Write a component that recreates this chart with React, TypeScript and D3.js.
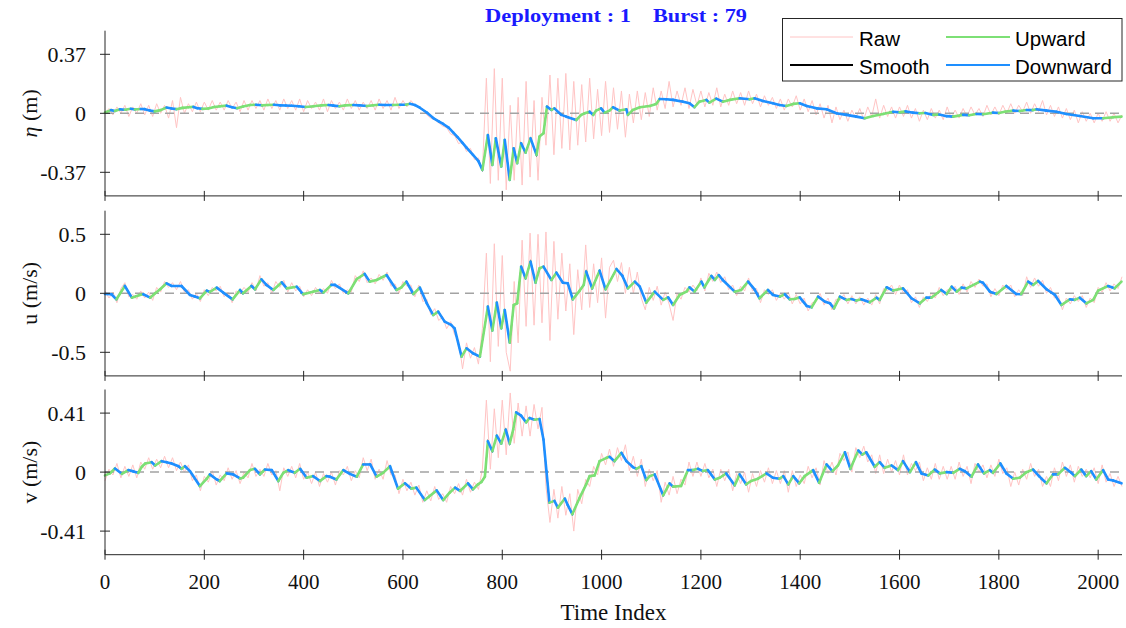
import React from 'react';
import * as d3 from 'd3';

// Raw series are sampled every RAW_STEP time indices, starting at 0.
const RAW_STEP = 8;
const TIME_MAX = 2048;

const etaRaw = [
  0.00, 0.03, -0.01, 0.04, 0.00, 0.05, -0.02, 0.04, 0.00, 0.06,
  -0.01, 0.05, -0.02, 0.06, 0.00, 0.05, -0.03, 0.08, -0.09, 0.10,
  0.00, 0.06, 0.01, 0.07, 0.01, 0.07, 0.02, 0.08, 0.02, 0.07,
  0.02, 0.08, 0.03, 0.07, 0.01, 0.08, 0.02, 0.08, 0.03, 0.08,
  0.02, 0.09, 0.03, 0.08, 0.02, 0.09, 0.03, 0.08, 0.02, 0.09,
  0.01, 0.08, 0.03, 0.07, 0.02, 0.09, 0.01, 0.08, 0.03, 0.07,
  0.02, 0.09, 0.03, 0.08, 0.02, 0.07, 0.03, 0.08, 0.02, 0.09,
  0.03, 0.08, 0.02, 0.10, 0.03, 0.08, 0.04, 0.08, 0.05, 0.04,
  0.02, -0.01, -0.03, -0.04, -0.06, -0.08, -0.09, -0.13, -0.14, -0.19,
  -0.18, -0.24, -0.22, -0.29, -0.28, -0.36, 0.22, -0.44, 0.28, -0.42,
  0.22, -0.48, 0.05, -0.42, 0.10, -0.45, 0.20, -0.40, 0.08, -0.42,
  0.10, -0.20, 0.24, -0.26, 0.22, -0.22, 0.25, -0.23, 0.20, -0.20,
  0.18, -0.18, 0.22, -0.16, 0.15, -0.14, 0.20, -0.12, 0.16, -0.10,
  0.14, -0.15, 0.12, -0.06, 0.14, -0.04, 0.13, -0.02, 0.16, 0.02,
  0.14, 0.03, 0.20, 0.04, 0.14, 0.05, 0.16, 0.03, 0.15, 0.05,
  0.14, 0.04, 0.13, 0.05, 0.16, 0.04, 0.12, 0.05, 0.14, 0.06,
  0.13, 0.05, 0.14, 0.06, 0.12, 0.04, 0.11, 0.05, 0.10, 0.03,
  0.09, 0.02, 0.09, 0.04, 0.11, 0.02, 0.09, 0.01, 0.08, -0.01,
  0.06, -0.03, 0.05, -0.06, 0.04, -0.04, 0.02, -0.05, 0.02, -0.03,
  0.03, -0.04, 0.04, -0.02, 0.09, -0.03, 0.05, -0.02, 0.04, -0.03,
  0.04, -0.02, 0.05, -0.03, 0.03, -0.05, 0.02, -0.04, 0.03, -0.03,
  0.02, -0.04, 0.04, -0.03, 0.02, -0.03, 0.03, -0.02, 0.04, -0.01,
  0.03, -0.02, 0.05, -0.01, 0.04, -0.01, 0.05, 0.00, 0.06, 0.00,
  0.05, 0.01, 0.07, 0.00, 0.06, 0.01, 0.08, -0.01, 0.05, -0.02,
  0.04, -0.03, 0.03, -0.04, 0.02, -0.06, 0.01, -0.05, 0.00, -0.06,
  0.00, -0.05, 0.01, -0.05, 0.00, -0.06, -0.01,
];

const uRaw = [
  0.02, -0.04, 0.01, -0.08, 0.04, 0.09, -0.03, -0.01, -0.05, 0.02,
  -0.04, 0.01, -0.06, 0.05, 0.01, 0.10, 0.05, 0.09, 0.03, 0.10,
  0.01, 0.03, -0.05, 0.00, -0.07, 0.03, -0.02, 0.05, 0.02, 0.06,
  -0.03, 0.01, -0.08, 0.02, 0.00, 0.05, 0.01, 0.09, 0.02, 0.15,
  0.06, 0.09, 0.00, 0.10, 0.05, 0.11, 0.01, 0.09, 0.02, 0.06,
  -0.03, 0.03, -0.02, 0.05, 0.00, 0.04, 0.00, 0.11, 0.04, 0.08,
  0.00, 0.03, 0.01, 0.15, 0.10, 0.19, 0.09, 0.13, 0.08, 0.16,
  0.11, 0.18, 0.06, 0.08, 0.00, 0.10, 0.06, 0.07, -0.03, 0.07,
  -0.07, -0.05, -0.18, -0.13, -0.23, -0.20, -0.30, -0.24, -0.35, -0.40,
  -0.64, -0.42, -0.55, -0.46, -0.60, -0.30, 0.34, -0.58, 0.42, -0.45,
  0.32, -0.50, -0.66, 0.10, -0.42, 0.45, -0.28, 0.51, -0.27, 0.50,
  -0.25, 0.52, -0.40, 0.44, -0.22, 0.34, -0.15, 0.25, -0.35, 0.20,
  -0.14, 0.41, -0.12, 0.25, -0.08, 0.30, -0.21, 0.22, 0.28, 0.10,
  0.26, 0.00, 0.22, 0.00, 0.18, -0.04, -0.14, 0.05, -0.06, 0.06,
  -0.10, 0.01, -0.09, -0.23, 0.00, -0.05, 0.05, 0.01, 0.07, 0.02,
  0.13, 0.02, 0.17, 0.10, 0.18, 0.09, 0.14, 0.03, 0.07, -0.02,
  0.06, 0.02, 0.13, 0.02, 0.04, -0.08, 0.03, -0.01, 0.03, -0.06,
  0.00, -0.05, 0.01, -0.09, -0.01, -0.09, -0.04, -0.15, -0.08, -0.07,
  0.00, -0.10, -0.04, -0.14, -0.05, -0.06, -0.01, -0.09, -0.02, -0.09,
  -0.03, -0.10, -0.04, -0.10, -0.01, -0.09, 0.04, 0.02, 0.07, -0.01,
  0.07, 0.00, 0.03, -0.08, -0.03, -0.12, -0.03, -0.07, 0.00, -0.04,
  0.05, -0.02, 0.03, 0.02, 0.06, -0.01, 0.08, 0.01, 0.10, 0.05,
  0.12, 0.06, 0.08, -0.03, 0.04, -0.02, 0.07, 0.03, 0.07, -0.03,
  0.03, -0.02, 0.14, 0.05, 0.13, 0.06, 0.11, 0.00, 0.05, -0.04,
  -0.02, -0.14, -0.04, -0.09, -0.02, -0.07, -0.02, -0.12, -0.04, -0.08,
  0.05, 0.01, 0.09, 0.02, 0.08, 0.04, 0.14,
];

const vRaw = [
  -0.06, 0.02, -0.02, 0.06, -0.04, 0.04, -0.03, 0.05, -0.04, 0.07,
  0.02, 0.10, 0.02, 0.09, 0.03, 0.11, 0.03, 0.10, 0.01, 0.07,
  0.00, 0.05, -0.06, -0.02, -0.13, -0.03, -0.07, 0.01, -0.09, -0.02,
  -0.06, 0.03, -0.05, 0.01, -0.08, 0.00, -0.04, 0.06, -0.03, 0.02,
  -0.03, 0.06, -0.02, 0.01, -0.13, 0.03, -0.03, 0.04, -0.04, 0.06,
  -0.05, 0.00, -0.08, 0.00, -0.10, -0.01, -0.07, 0.00, -0.09, 0.01,
  -0.02, 0.04, -0.06, 0.01, -0.04, 0.10, 0.01, 0.09, -0.05, 0.02,
  -0.05, 0.08, -0.02, -0.02, -0.15, -0.05, -0.13, -0.07, -0.16, -0.09,
  -0.21, -0.13, -0.20, -0.10, -0.19, -0.15, -0.21, -0.10, -0.15, -0.08,
  -0.16, -0.05, -0.14, -0.07, -0.12, 0.02, 0.50, 0.02, 0.44, 0.10,
  0.50, 0.12, 0.55, 0.20, 0.48, 0.25, 0.46, 0.25, 0.47, 0.30,
  0.45, -0.10, -0.35, -0.12, -0.32, -0.10, -0.30, -0.15, -0.41, -0.12,
  -0.22, -0.05, -0.10, 0.04, -0.02, 0.13, 0.05, 0.16, 0.04, 0.17,
  0.08, 0.19, 0.01, 0.11, -0.03, 0.09, -0.10, 0.02, -0.06, 0.01,
  -0.21, -0.07, -0.16, -0.03, -0.15, -0.05, -0.09, 0.07, -0.03, 0.07,
  -0.03, 0.06, -0.04, 0.02, -0.10, 0.02, -0.06, 0.02, -0.13, -0.01,
  -0.08, 0.00, -0.14, -0.01, -0.10, 0.01, -0.07, 0.03, -0.08, 0.01,
  -0.08, 0.01, -0.14, 0.01, -0.10, -0.02, -0.08, 0.04, -0.04, 0.03,
  -0.09, 0.08, -0.01, 0.07, -0.02, 0.13, 0.08, 0.14, 0.00, 0.17,
  0.10, 0.18, 0.07, 0.12, -0.01, 0.12, -0.01, 0.09, 0.00, 0.08,
  -0.02, 0.12, -0.02, 0.06, 0.01, 0.07, -0.06, 0.03, -0.05, 0.06,
  -0.05, 0.04, -0.05, 0.04, -0.05, 0.07, -0.03, 0.04, -0.08, 0.06,
  0.00, 0.05, -0.04, 0.05, -0.03, 0.09, -0.01, 0.03, -0.10, 0.00,
  -0.09, 0.02, -0.05, 0.06, -0.03, 0.02, -0.10, -0.03, -0.10, 0.03,
  -0.06, 0.07, -0.03, 0.05, -0.07, 0.04, -0.03, 0.02, -0.04, 0.03,
  -0.08, 0.05, -0.07, -0.01, -0.10, -0.03, -0.10,
];

// Smoothed series as [time index, value] turning points.
const etaSmooth: [number, number][] = [
  [0, 0.005], [12, 0.020], [20, 0.015], [30, 0.025], [40, 0.022], [52, 0.028], [60, 0.024], [72, 0.027],
  [80, 0.026], [90, 0.018], [100, 0.012], [112, 0.020], [124, 0.036], [134, 0.030], [144, 0.026], [156, 0.034],
  [168, 0.038], [178, 0.040], [186, 0.032], [196, 0.028], [208, 0.030], [220, 0.040], [232, 0.044], [245, 0.048],
  [256, 0.038], [266, 0.032], [278, 0.042], [292, 0.052], [304, 0.054], [316, 0.050], [328, 0.052], [340, 0.054],
  [352, 0.050], [364, 0.049], [376, 0.047], [390, 0.044], [404, 0.040], [420, 0.044], [436, 0.050], [450, 0.052],
  [460, 0.048], [472, 0.044], [484, 0.050], [500, 0.052], [512, 0.050], [527, 0.046], [540, 0.050], [552, 0.054],
  [564, 0.052], [580, 0.052], [594, 0.054], [606, 0.054], [614, 0.060], [624, 0.052], [634, 0.035], [648, 0.005],
  [661, -0.030], [672, -0.050], [681, -0.067], [692, -0.090], [701, -0.120], [710, -0.150], [720, -0.185], [728, -0.215],
  [741, -0.260], [752, -0.300], [760, -0.355], [771, -0.136], [780, -0.324], [787, -0.157], [798, -0.334], [805, -0.167],
  [815, -0.418], [823, -0.219], [830, -0.313], [838, -0.188], [847, -0.247], [857, -0.157], [869, -0.261], [875, -0.146],
  [883, -0.125], [890, 0.042], [899, 0.021], [905, 0.031], [919, -0.010], [929, -0.021], [949, -0.042], [959, -0.010],
  [966, 0.000], [976, 0.010], [983, -0.010], [989, 0.017], [999, 0.031], [1006, 0.004], [1016, 0.017], [1023, 0.038],
  [1036, 0.017], [1050, 0.025], [1053, -0.010], [1063, 0.021], [1077, 0.038], [1097, 0.046], [1110, 0.059], [1117, 0.090],
  [1130, 0.088], [1144, 0.084], [1164, 0.073], [1177, 0.063], [1187, 0.038], [1197, 0.073], [1211, 0.084], [1217, 0.067],
  [1231, 0.092], [1244, 0.073], [1258, 0.084], [1278, 0.094], [1298, 0.088], [1308, 0.094], [1325, 0.077], [1345, 0.063],
  [1358, 0.052], [1372, 0.046], [1386, 0.059], [1399, 0.063], [1413, 0.046], [1433, 0.031], [1453, 0.025], [1473, 0.000],
  [1493, -0.010], [1513, -0.021], [1530, -0.031], [1547, -0.017], [1567, -0.004], [1587, 0.010], [1600, 0.006], [1612, 0.012],
  [1627, 0.004], [1640, 0.000], [1652, 0.002], [1668, -0.010], [1680, -0.008], [1695, -0.018], [1708, -0.021], [1728, -0.010],
  [1740, -0.012], [1755, -0.004], [1768, -0.006], [1788, 0.004], [1800, 0.002], [1812, 0.010], [1829, 0.017], [1842, 0.014],
  [1856, 0.021], [1868, 0.020], [1876, 0.025], [1896, 0.017], [1916, 0.010], [1936, -0.004], [1963, -0.017], [1990, -0.031],
  [2010, -0.031], [2030, -0.025], [2047, -0.021],
];

const uSmooth: [number, number][] = [
  [0, -0.006], [13, -0.008], [23, -0.051], [40, 0.062], [54, -0.037], [70, -0.014], [77, -0.008], [91, -0.037],
  [101, 0.000], [111, 0.034], [124, 0.085], [134, 0.062], [154, 0.062], [171, -0.014], [181, -0.028], [191, -0.042],
  [205, 0.023], [211, 0.011], [225, 0.048], [238, 0.006], [257, -0.051], [272, 0.028], [278, 0.000], [295, 0.062],
  [302, 0.034], [315, 0.119], [325, 0.071], [339, 0.028], [356, 0.093], [366, 0.042], [386, 0.056], [399, -0.008],
  [419, 0.014], [433, 0.028], [440, 0.006], [456, 0.071], [463, 0.071], [490, 0.000], [507, 0.121], [523, 0.164],
  [533, 0.099], [547, 0.113], [567, 0.155], [587, 0.028], [597, 0.051], [607, 0.099], [621, -0.006], [634, 0.048],
  [648, -0.085], [661, -0.184], [671, -0.155], [684, -0.240], [697, -0.268], [704, -0.297], [718, -0.537], [728, -0.466],
  [741, -0.508], [755, -0.537], [771, -0.113], [780, -0.316], [789, -0.079], [798, -0.297], [805, -0.141], [815, -0.418],
  [823, -0.099], [830, -0.085], [838, 0.226], [847, 0.127], [857, 0.268], [867, 0.090], [875, 0.212], [883, 0.226],
  [899, 0.113], [909, 0.175], [922, 0.090], [932, 0.085], [942, -0.051], [956, 0.023], [964, 0.071], [969, 0.184],
  [981, 0.042], [996, 0.192], [1008, 0.034], [1030, 0.206], [1042, 0.147], [1053, 0.042], [1067, 0.099], [1077, 0.056],
  [1090, -0.079], [1107, 0.014], [1124, -0.056], [1134, -0.034], [1144, -0.099], [1157, -0.014], [1171, 0.014], [1177, 0.051],
  [1187, 0.014], [1201, 0.099], [1207, 0.051], [1221, 0.147], [1228, 0.113], [1236, 0.155], [1244, 0.113], [1268, 0.014],
  [1281, 0.028], [1295, 0.099], [1308, 0.034], [1318, -0.042], [1335, 0.028], [1345, -0.014], [1359, -0.028], [1369, -0.008],
  [1379, -0.051], [1389, -0.048], [1399, -0.034], [1413, -0.107], [1423, -0.119], [1436, -0.028], [1450, -0.071], [1460, -0.085],
  [1468, -0.127], [1480, -0.028], [1493, -0.056], [1503, -0.048], [1513, -0.062], [1523, -0.051], [1540, -0.076], [1554, -0.037],
  [1560, -0.056], [1574, 0.051], [1587, 0.023], [1607, 0.042], [1624, -0.042], [1641, -0.085], [1654, -0.037], [1664, -0.037],
  [1684, 0.028], [1695, -0.006], [1705, 0.056], [1715, 0.014], [1725, 0.048], [1735, 0.042], [1762, 0.099], [1768, 0.090],
  [1782, 0.014], [1795, -0.006], [1815, 0.062], [1835, -0.006], [1845, -0.008], [1859, 0.099], [1869, 0.071], [1879, 0.105],
  [1896, 0.034], [1913, -0.014], [1926, -0.099], [1943, -0.051], [1953, -0.056], [1963, -0.037], [1976, -0.085], [1990, -0.056],
  [2000, 0.023], [2020, 0.062], [2033, 0.042], [2047, 0.099],
];

const vSmooth: [number, number][] = [
  [0, -0.023], [10, -0.009], [20, 0.025], [34, -0.012], [47, 0.014], [57, 0.005], [67, -0.005], [74, 0.037],
  [81, 0.060], [94, 0.069], [101, 0.046], [114, 0.076], [124, 0.069], [134, 0.060], [148, 0.041], [154, 0.023],
  [161, 0.041], [171, 0.007], [191, -0.097], [205, -0.046], [211, -0.016], [225, -0.051], [231, -0.062], [245, -0.009],
  [258, -0.016], [272, -0.044], [278, -0.039], [292, 0.014], [302, 0.023], [312, -0.016], [322, 0.018], [336, 0.014],
  [349, -0.062], [359, -0.005], [369, 0.014], [382, -0.005], [393, 0.023], [406, -0.039], [419, -0.028], [433, -0.062],
  [446, -0.028], [453, -0.032], [466, -0.051], [480, 0.014], [493, -0.012], [507, -0.032], [520, 0.053], [534, 0.053],
  [547, -0.032], [560, -0.005], [574, 0.041], [590, -0.115], [604, -0.078], [617, -0.115], [627, -0.108], [644, -0.194],
  [654, -0.166], [668, -0.127], [681, -0.194], [694, -0.143], [705, -0.108], [715, -0.131], [731, -0.078], [741, -0.120],
  [751, -0.085], [758, -0.069], [765, -0.032], [771, 0.214], [780, 0.145], [789, 0.253], [798, 0.198], [807, 0.295],
  [815, 0.198], [822, 0.295], [828, 0.415], [838, 0.392], [848, 0.346], [855, 0.376], [865, 0.364], [875, 0.369],
  [883, 0.226], [889, 0.007], [895, -0.212], [905, -0.200], [912, -0.247], [926, -0.184], [932, -0.230], [941, -0.293],
  [956, -0.177], [969, -0.085], [976, -0.028], [986, -0.023], [996, 0.076], [1010, 0.099], [1016, 0.106], [1026, 0.076],
  [1040, 0.134], [1050, 0.076], [1063, 0.035], [1070, 0.023], [1080, 0.041], [1090, -0.055], [1097, -0.028], [1107, -0.016],
  [1124, -0.161], [1137, -0.078], [1144, -0.101], [1160, -0.097], [1174, 0.014], [1184, 0.014], [1194, 0.023], [1204, 0.007],
  [1214, 0.014], [1228, -0.051], [1238, -0.039], [1251, -0.009], [1268, -0.092], [1278, -0.016], [1291, -0.085], [1301, -0.062],
  [1315, -0.046], [1332, -0.009], [1345, -0.039], [1358, -0.046], [1366, -0.028], [1376, -0.085], [1386, -0.028], [1398, -0.078],
  [1409, -0.028], [1426, 0.014], [1438, -0.074], [1453, 0.053], [1465, 0.007], [1476, 0.046], [1490, 0.138], [1501, 0.023],
  [1517, 0.150], [1525, 0.122], [1533, 0.138], [1550, 0.037], [1560, 0.069], [1570, 0.030], [1584, 0.046], [1597, 0.014],
  [1607, 0.076], [1621, 0.000], [1633, 0.069], [1644, -0.009], [1658, -0.023], [1671, 0.018], [1681, -0.009], [1695, 0.000],
  [1708, -0.005], [1721, 0.023], [1731, 0.007], [1745, -0.032], [1758, 0.053], [1770, -0.009], [1782, 0.014], [1788, -0.005],
  [1803, 0.060], [1815, -0.009], [1829, -0.046], [1842, -0.039], [1856, 0.000], [1869, 0.018], [1881, -0.028], [1886, -0.046],
  [1896, -0.078], [1909, -0.016], [1919, -0.016], [1933, 0.030], [1946, -0.005], [1953, -0.028], [1966, 0.018], [1976, -0.028],
  [1986, 0.007], [1996, -0.051], [2010, 0.014], [2020, -0.051], [2030, -0.058], [2047, -0.078],
];

const etaTicks = [-0.37, 0, 0.37];
const etaTickLabels = ['-0.37', '0', '0.37'];
const uTicks = [-0.5, 0, 0.5];
const uTickLabels = ['-0.5', '0', '0.5'];
const vTicks = [-0.41, 0, 0.41];
const vTickLabels = ['-0.41', '0', '0.41'];

const timeTicks = [0, 200, 400, 600, 800, 1000, 1200, 1400, 1600, 1800, 2000];
const timeTickLabels = ['0', '200', '400', '600', '800', '1000', '1200', '1400', '1600', '1800', '2000'];

const titleParts = ['Deployment : 1', 'Burst : 79'];
const legendLabels = ['Raw', 'Smooth', 'Upward', 'Downward'];

const COLORS = {
  raw: '#ffc4c4',
  smooth: '#000000',
  up: '#7de075',
  down: '#1e8fff',
  axis: '#262626',
  zero: '#a3a3a3',
  title: '#1a1aff',
};

const SERIF = '"Liberation Serif", "Times New Roman", serif';
const SANS = '"Liberation Sans", Arial, sans-serif';

const X_LEFT = 105;
const X_RIGHT = 1122;
const PANEL_TOPS = [30.7, 210.7, 389.5];
const PANEL_H = 165.2;
const Y_PAD = 1.4; // y-limits are 1.4 x the tick magnitude

const x = d3.scaleLinear().domain([0, TIME_MAX]).range([X_LEFT, X_RIGHT]);

type PanelDef = {
  ylabel: React.ReactNode;
  ticks: number[];
  tickLabels: string[];
  raw: number[];
  smooth: [number, number][];
  showTimeLabels: boolean;
};

const panels: PanelDef[] = [
  {
    ylabel: (
      <>
        <tspan fontStyle="italic">η</tspan>
        <tspan> (m)</tspan>
      </>
    ),
    ticks: etaTicks,
    tickLabels: etaTickLabels,
    raw: etaRaw,
    smooth: etaSmooth,
    showTimeLabels: false,
  },
  { ylabel: 'u (m/s)', ticks: uTicks, tickLabels: uTickLabels, raw: uRaw, smooth: uSmooth, showTimeLabels: false },
  { ylabel: 'v (m/s)', ticks: vTicks, tickLabels: vTickLabels, raw: vRaw, smooth: vSmooth, showTimeLabels: true },
];

function Panel({ def, top }: { def: PanelDef; top: number }) {
  const bottom = top + PANEL_H;
  const lim = Y_PAD * d3.max(def.ticks.map(Math.abs))!;
  const y = d3.scaleLinear().domain([-lim, lim]).range([bottom, top]);

  const rawLine = d3
    .line<number>()
    .x((_, i) => x(i * RAW_STEP))
    .y((d) => y(d));
  const smoothLine = d3
    .line<[number, number]>()
    .x((d) => x(d[0]))
    .y((d) => y(d[1]));

  // Rising stretches are drawn in the "Upward" colour, falling ones in "Downward".
  const segments = d3.pairs(def.smooth).map(([a, b]) => ({
    d: smoothLine([a, b])!,
    color: b[1] > a[1] ? COLORS.up : COLORS.down,
  }));

  return (
    <g>
      <path d={rawLine(def.raw)!} fill="none" stroke={COLORS.raw} strokeWidth={1} strokeLinejoin="round" />
      <line
        x1={X_LEFT}
        x2={X_RIGHT}
        y1={y(0)}
        y2={y(0)}
        stroke={COLORS.zero}
        strokeWidth={1.5}
        strokeDasharray="9 6"
      />
      <path d={smoothLine(def.smooth)!} fill="none" stroke={COLORS.smooth} strokeWidth={1.2} />
      {segments.map((s, i) => (
        <path key={i} d={s.d} fill="none" stroke={s.color} strokeWidth={2.6} strokeLinecap="round" />
      ))}

      {/* y axis */}
      <line x1={X_LEFT} x2={X_LEFT} y1={top} y2={bottom} stroke={COLORS.axis} strokeWidth={1} />
      {def.ticks.map((t, i) => (
        <g key={t}>
          <line x1={X_LEFT - 5} x2={X_LEFT + 5} y1={y(t)} y2={y(t)} stroke={COLORS.axis} strokeWidth={1} />
          <text
            x={X_LEFT - 19}
            y={y(t)}
            textAnchor="end"
            dominantBaseline="central"
            fontFamily={SERIF}
            fontSize={22}
            fill="#111"
          >
            {def.tickLabels[i]}
          </text>
        </g>
      ))}
      <text
        transform={`translate(29, ${(top + bottom) / 2}) rotate(-90)`}
        textAnchor="middle"
        dominantBaseline="central"
        fontFamily={SERIF}
        fontSize={22}
        fill="#111"
      >
        {def.ylabel}
      </text>

      {/* time axis */}
      <line x1={X_LEFT} x2={X_RIGHT} y1={bottom} y2={bottom} stroke={COLORS.axis} strokeWidth={1} />
      {timeTicks.map((t, i) => (
        <g key={t}>
          <line x1={x(t)} x2={x(t)} y1={bottom - 5} y2={bottom + 5} stroke={COLORS.axis} strokeWidth={1} />
          {def.showTimeLabels && (
            <text x={x(t)} y={bottom + 34} textAnchor="middle" fontFamily={SERIF} fontSize={21} fill="#111">
              {timeTickLabels[i]}
            </text>
          )}
        </g>
      ))}
    </g>
  );
}

function Legend() {
  const rows = [37, 65];
  const cols = [
    { lineX: [790, 853], textX: 859 },
    { lineX: [946, 1010], textX: 1015 },
  ];
  const items = [
    { label: legendLabels[0], color: COLORS.raw, width: 1, row: 0, col: 0 },
    { label: legendLabels[1], color: COLORS.smooth, width: 2.2, row: 1, col: 0 },
    { label: legendLabels[2], color: COLORS.up, width: 2.2, row: 0, col: 1 },
    { label: legendLabels[3], color: COLORS.down, width: 2.2, row: 1, col: 1 },
  ];
  return (
    <g>
      <rect x={782.5} y={18.5} width={339.5} height={62.5} fill="#fff" stroke={COLORS.axis} strokeWidth={1} />
      {items.map((it) => (
        <g key={it.label}>
          <line
            x1={cols[it.col].lineX[0]}
            x2={cols[it.col].lineX[1]}
            y1={rows[it.row]}
            y2={rows[it.row]}
            stroke={it.color}
            strokeWidth={it.width}
          />
          <text
            x={cols[it.col].textX}
            y={rows[it.row] + 1.5}
            dominantBaseline="central"
            fontFamily={SANS}
            fontSize={20.5}
            fill="#000"
          >
            {it.label}
          </text>
        </g>
      ))}
    </g>
  );
}

export default function App() {
  return (
    <svg
      width={1126}
      height={628}
      viewBox="0 0 1126 628"
      style={{ position: 'fixed', left: 0, top: 0, background: '#fff', display: 'block' }}
    >
      <rect width={1126} height={628} fill="#fff" />
      {panels.map((p, i) => (
        <Panel key={i} def={p} top={PANEL_TOPS[i]} />
      ))}
      <text x={(X_LEFT + X_RIGHT) / 2} y={620} textAnchor="middle" fontFamily={SERIF} fontSize={23} fill="#111">
        Time Index
      </text>
      {/* title: wide bold face, two runs */}
      <text
        x={485}
        y={22}
        fontFamily={SERIF}
        fontWeight="bold"
        fontSize={19}
        fill={COLORS.title}
        textLength={146}
        lengthAdjust="spacingAndGlyphs"
      >
        {titleParts[0]}
      </text>
      <text
        x={653}
        y={22}
        fontFamily={SERIF}
        fontWeight="bold"
        fontSize={19}
        fill={COLORS.title}
        textLength={94}
        lengthAdjust="spacingAndGlyphs"
      >
        {titleParts[1]}
      </text>
      <Legend />
    </svg>
  );
}
